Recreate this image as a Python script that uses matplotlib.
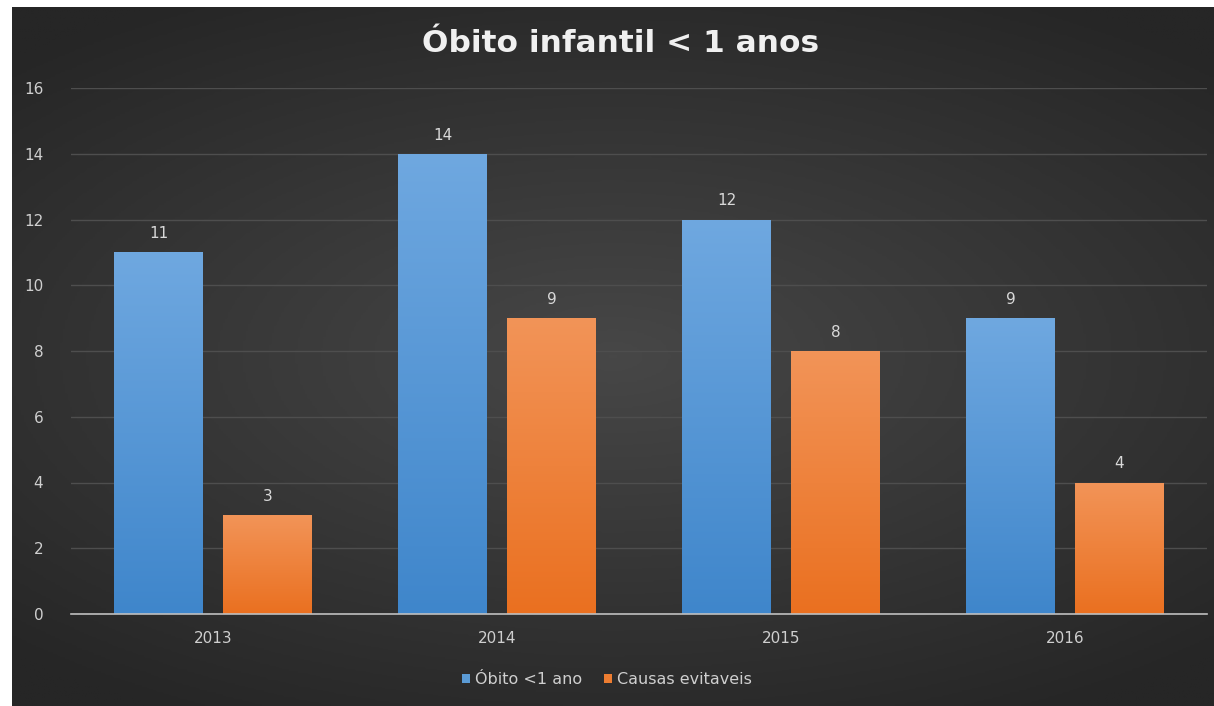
import numpy as np
import matplotlib
matplotlib.use("Agg")
import matplotlib.pyplot as plt
from matplotlib.colors import LinearSegmentedColormap

plt.rcParams['font.family'] = ['DejaVu Sans']

title = "Óbito infantil < 1 anos"
years = ["2013", "2014", "2015", "2016"]
obito = [11, 14, 12, 9]
evitaveis = [3, 9, 8, 4]
series_names = ["Óbito <1 ano", "Causas evitaveis"]

W, H = 1214, 706
fig = plt.figure(figsize=(W / 100, H / 100), dpi=100)
fig.patch.set_facecolor("white")

# dark radial background, a thin white margin on the left and top
bg = fig.add_axes([12 / W, 0, 1 - 12 / W, 1 - 7 / H])
bg.set_axis_off()
yy, xx = np.mgrid[-1:1:300j, -1:1:500j]
r = np.sqrt((xx * 0.9) ** 2 + (yy * 1.1) ** 2)
shade = np.clip(1 - r / 1.3, 0, 1)
bg_cmap = LinearSegmentedColormap.from_list("bg", ["#262626", "#474747"])
bg.imshow(shade, cmap=bg_cmap, aspect="auto", extent=[0, 1, 0, 1])
bg.set_xlim(0, 1)
bg.set_ylim(0, 1)

ax = fig.add_axes([71 / W, 92 / H, 1136 / W, 526 / H])
ax.patch.set_alpha(0)
ax.set_xlim(-0.5, len(years) - 0.5)
ax.set_ylim(0, 16)

x = np.arange(len(years))
w = 0.312
off = 0.192


def gradient_bars(bars, top, bottom):
    cm = LinearSegmentedColormap.from_list("g", [bottom, top])
    grad = np.linspace(0, 1, 256).reshape(-1, 1)
    for b in bars:
        x0, y0 = b.get_x(), b.get_y()
        im = ax.imshow(grad, cmap=cm, aspect="auto", origin="lower",
                       extent=[x0, x0 + b.get_width(), y0, y0 + b.get_height()],
                       zorder=3)
        im.set_clip_path(b)
    ax.set_xlim(-0.5, len(years) - 0.5)
    ax.set_ylim(0, 16)


b1 = ax.bar(x - off, obito, w, color="#5b9bd5", zorder=2, label=series_names[0])
b2 = ax.bar(x + off, evitaveis, w, color="#ed7d31", zorder=2, label=series_names[1])
gradient_bars(b1, "#6fa8e0", "#3f86cb")
gradient_bars(b2, "#f29458", "#ea7020")

for bars, vals in ((b1, obito), (b2, evitaveis)):
    for b, v in zip(bars, vals):
        ax.annotate(str(v), (b.get_x() + b.get_width() / 2, v),
                    xytext=(0, 8), textcoords="offset points",
                    ha="center", va="bottom", color="#d9d9d9", fontsize=11,
                    zorder=5)

ax.set_yticks(range(0, 17, 2))
ax.set_xticks(x)
ax.set_xticklabels(years)
ax.grid(axis="y", color="#4e4e4e", linewidth=1, zorder=0)
ax.set_axisbelow(True)
for s in ("top", "right", "left"):
    ax.spines[s].set_visible(False)
ax.spines["bottom"].set_color("#bfbfbf")
ax.spines["bottom"].set_linewidth(1.2)
ax.spines["bottom"].set_zorder(4)
ax.tick_params(axis="both", length=0, colors="#cfcfcf", labelsize=11)
ax.tick_params(axis="y", pad=20)
ax.tick_params(axis="x", pad=12)

fig.text(621 / W, 1 - 44 / H, title, ha="center", va="center", color="#f0f0f0",
         fontsize=22.5, fontweight="bold")

leg = fig.legend(handles=[b1, b2], labels=series_names, loc="center",
                 bbox_to_anchor=(0.5, 1 - 680 / H), ncol=2, frameon=False,
                 fontsize=11.5, handlelength=0.5, handleheight=0.5,
                 handletextpad=0.3, columnspacing=1.4)
for t in leg.get_texts():
    t.set_color("#cfcfcf")

fig.savefig("out.png", dpi=100, facecolor=fig.get_facecolor())
